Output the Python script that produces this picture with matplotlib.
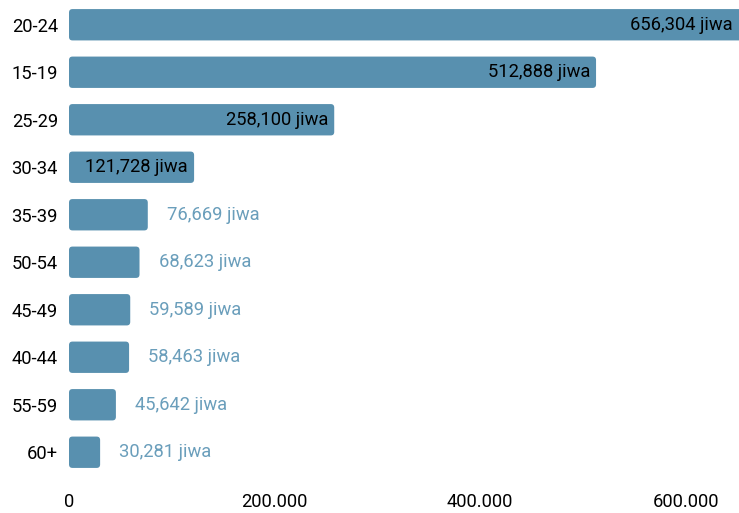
import matplotlib
matplotlib.use("Agg")
import matplotlib.pyplot as plt
from matplotlib.patches import FancyBboxPatch

plt.rcParams['font.family'] = ['Roboto', 'DejaVu Sans']

# data
age_groups = ["20-24", "15-19", "25-29", "30-34", "35-39",
              "50-54", "45-49", "40-44", "55-59", "60+"]
population = [656304, 512888, 258100, 121728, 76669,
              68623, 59589, 58463, 45642, 30281]
xticks = [0, 200000, 400000, 600000]
xtick_labels = ["0", "200.000", "400.000", "600.000"]

bar_color = "#5890af"
label_out_color = "#6a9ebb"

W, H = 739, 513
fig = plt.figure(figsize=(W / 100, H / 100), dpi=100)
ax = fig.add_axes([69 / W, 1 - 476 / H, 1 - 69 / W, 475 / H])

xmax = 652000
ax.set_xlim(0, xmax)
ax.set_ylim(len(age_groups) - 0.5, -0.5)

bars = ax.barh(range(len(age_groups)), population, height=0.66, color=bar_color)

# swap plain bars for rounded ones
x_per_px = xmax / (W - 69)
y_per_px = len(age_groups) / 475
for b in bars:
    b.set_visible(False)
    p = FancyBboxPatch((b.get_x(), b.get_y()), b.get_width(), b.get_height(),
                       boxstyle=f"round,pad=0,rounding_size={3.5 * x_per_px}",
                       mutation_aspect=y_per_px / x_per_px,
                       facecolor=bar_color, edgecolor="none", clip_on=True)
    ax.add_patch(p)

fs = 13.2
for i, v in enumerate(population):
    txt = f"{v:,} jiwa"
    if v >= 100000:
        xr = min(v, xmax) - 6 * x_per_px
        ax.text(xr, i, txt, ha="right", va="center", fontsize=fs, color="black")
    else:
        ax.text(v + 19 * x_per_px, i, txt, ha="left", va="center",
                fontsize=fs, color=label_out_color)

ax.set_yticks(range(len(age_groups)))
ax.set_yticklabels(age_groups, fontsize=fs)
ax.set_xticks(xticks)
ax.set_xticklabels(xtick_labels, fontsize=fs)
ax.tick_params(axis="both", length=0)
ax.tick_params(axis="x", pad=12)
ax.tick_params(axis="y", pad=8)
for s in ax.spines.values():
    s.set_visible(False)

fig.savefig("out.png", dpi=100)
